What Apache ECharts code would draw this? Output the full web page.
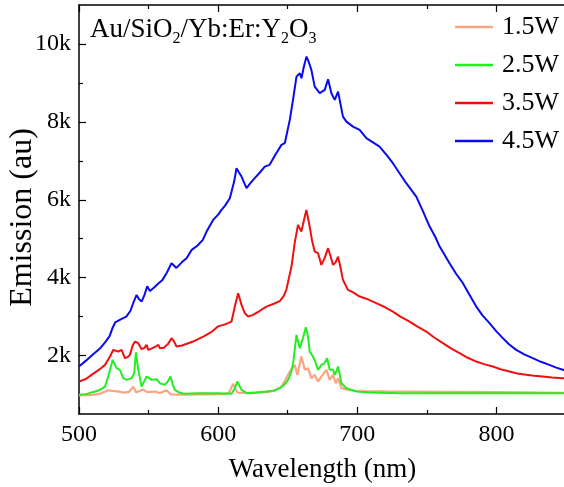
<!DOCTYPE html>
<html>
<head>
<meta charset="utf-8">
<script src="https://cdn.jsdelivr.net/npm/echarts@6/dist/echarts.min.js"></script>
<style>
  html, body { margin: 0; padding: 0; background: #fff; }
  #chart { width: 564px; height: 487px; }
</style>
</head>
<body>
<div id="chart"></div>
<script>
// Upconversion emission spectra at four pump powers
const seriesNames = ['1.5W', '2.5W', '3.5W', '4.5W'];
const seriesColors = ['#FBA584', '#22EE22', '#F01010', '#0A0AF0'];

const wl15 = [500, 510, 516, 521, 524, 528, 532, 536, 539, 541, 546, 549, 554.6, 558, 563, 566, 575, 590, 605, 608, 610.7, 612.5, 614, 625, 635, 641, 645.5, 648, 651.5, 655, 657, 659.8, 662.3, 664.6, 667, 669.4, 671.8, 674.2, 677.8, 680.2, 682.6, 684.5, 686.2, 688.6, 694.5, 700, 720, 760, 800, 850];
const em15 = [975, 990, 1030, 1110, 1095, 1080, 1050, 1070, 1200, 1050, 1130, 1060, 1076, 1040, 1110, 1000, 995, 1000, 1010, 1060, 1274, 1150, 1050, 1040, 1060, 1100, 1204, 1350, 1590, 1761, 1505, 1975, 1633, 1676, 1420, 1505, 1333, 1461, 1633, 1376, 1505, 1291, 1420, 1163, 1110, 1090, 1080, 1070, 1060, 1040];

const wl25 = [500, 505, 511.5, 515, 518.7, 521, 524.2, 527, 529.4, 531.8, 534.2, 537.8, 539.7, 540.9, 542.6, 545, 547, 548.6, 550.5, 552.2, 555.8, 558.1, 561.7, 564, 565.8, 567.5, 568.9, 572, 576.1, 585, 600, 609.6, 612, 613.7, 615.2, 616.8, 620.4, 627, 634.7, 640, 644.3, 647.5, 650.3, 652.3, 653.9, 655.2, 656.3, 658.7, 661, 663, 664.6, 665.8, 668.2, 670, 671.8, 674.2, 676.4, 678.3, 680.2, 682.6, 683.8, 685, 686.2, 688.6, 692.2, 699.4, 709, 730, 760, 800, 850];
const em25 = [1000, 1010, 1076, 1120, 1204, 1461, 1890, 1677, 1633, 1420, 1376, 1420, 1548, 2080, 1633, 1204, 1350, 1461, 1420, 1376, 1394, 1291, 1248, 1350, 1461, 1250, 1120, 1050, 1017, 1030, 1030, 1017, 1163, 1333, 1230, 1120, 1035, 1050, 1076, 1100, 1163, 1250, 1376, 1550, 1805, 2200, 2531, 2190, 2450, 2729, 2488, 2103, 1975, 1820, 1633, 1761, 1800, 1933, 1633, 1633, 1505, 1600, 1718, 1291, 1163, 1076, 1050, 1035, 1030, 1030, 1035];

const wl35 = [500, 505, 509, 513, 516, 518.7, 521, 522.3, 524.6, 526, 528.2, 530.6, 533, 535, 536.6, 538.5, 540.2, 542.6, 545, 547, 548.6, 549.7, 552, 555, 557, 558.1, 561, 564, 566.5, 568, 570.1, 574, 578.5, 582, 585.6, 590, 595, 600, 605, 609.6, 612, 614.4, 616.8, 619, 621.5, 625.1, 630, 634.7, 640, 644.3, 647, 649, 652.7, 655, 657.4, 659.8, 661.5, 663.4, 665.8, 667.5, 669.4, 671.8, 674.2, 676.5, 679, 680.8, 682.6, 684.5, 686.2, 688, 689.7, 693.3, 697, 701.7, 706.5, 713.6, 720, 725.6, 731, 737.6, 743, 749.6, 755, 761.5, 767, 773.5, 779, 785.5, 791, 797.4, 803, 809.4, 815, 821.4, 827, 833.3, 840, 847.7, 850];
const em35 = [1333, 1400, 1505, 1600, 1680, 1761, 1900, 1975, 2146, 2120, 2103, 2146, 1933, 1960, 2018, 2250, 2360, 2318, 2164, 2200, 2275, 2146, 2180, 2230, 2275, 2190, 2200, 2300, 2447, 2380, 2231, 2260, 2318, 2360, 2421, 2500, 2600, 2750, 2800, 2873, 3258, 3600, 3301, 3100, 3001, 3045, 3150, 3258, 3330, 3400, 3520, 3686, 4285, 4885, 5355, 5183, 5450, 5740, 5312, 4950, 4670, 4628, 4328, 4500, 4757, 4550, 4328, 4400, 4541, 4250, 3943, 3686, 3620, 3515, 3460, 3345, 3240, 3130, 3000, 2873, 2750, 2616, 2470, 2318, 2190, 2062, 1950, 1846, 1780, 1718, 1650, 1589, 1540, 1505, 1480, 1461, 1440, 1420, 1415];

const wl45 = [500, 505, 510, 515, 519, 522, 524, 526, 530, 534, 537, 539, 541.4, 543, 545, 547, 549, 551, 554, 557, 560, 563, 566.5, 568, 570, 574, 577.3, 581, 585, 589, 591.7, 596.4, 600, 602.4, 605, 608.4, 611.5, 613.2, 615, 616.8, 620.4, 623, 626.3, 630, 633.5, 637, 641, 645.5, 647.9, 651.5, 653.8, 656.3, 658.7, 659.9, 661.5, 663.5, 665, 667, 669.4, 673, 676.6, 679, 681.4, 683.8, 686.2, 689.7, 692.2, 696.9, 701.7, 706.5, 711, 716, 721, 725.6, 730, 735.2, 742.4, 747, 752, 756, 759.2, 766.3, 771, 775.9, 780, 785.5, 790, 795, 800, 804.6, 809, 814.2, 820, 826.1, 832, 838, 843, 850];
const em45 = [1720, 1870, 2030, 2180, 2350, 2500, 2700, 2850, 2930, 3000, 3150, 3350, 3558, 3450, 3386, 3550, 3780, 3660, 3750, 3850, 3943, 4120, 4372, 4320, 4250, 4400, 4500, 4713, 4820, 4970, 5183, 5483, 5620, 5740, 5850, 6040, 6467, 6810, 6700, 6595, 6297, 6420, 6554, 6700, 6852, 6896, 7150, 7409, 7452, 8050, 8564, 9162, 9249, 9120, 9400, 9675, 9550, 9334, 8905, 8736, 8820, 9095, 8736, 8564, 8777, 8135, 8006, 7878, 7794, 7581, 7480, 7365, 7150, 6939, 6700, 6425, 6082, 5720, 5312, 5050, 4798, 4372, 4100, 3859, 3600, 3258, 3030, 2832, 2620, 2447, 2290, 2146, 2030, 1933, 1840, 1761, 1690, 1610];

const xMajorTicks = [500, 600, 700, 800];
const xMinorTicks = [550, 650, 750];
const yMajorTicks = [2000, 4000, 6000, 8000, 10000];
const yMinorTicks = [3000, 5000, 7000, 9000];

const wavelengths = [wl15, wl25, wl35, wl45];
const emissions = [em15, em25, em35, em45];

const FONT = 'Liberation Serif';
const chart = echarts.init(document.getElementById('chart'), null, { renderer: 'canvas' });

function xAxisDef(position, ticks, len, withLabels, withLine) {
  return {
    type: 'value', position: position, min: 500, max: 850,
    axisLine: { show: withLine, onZero: false, lineStyle: { color: '#000', width: 1.5 } },
    axisTick: { show: true, inside: true, length: len, customValues: ticks, lineStyle: { color: '#000', width: 1.2 } },
    axisLabel: withLabels
      ? { show: true, customValues: ticks, fontFamily: FONT, fontSize: 24, color: '#000', margin: 9 }
      : { show: false },
    splitLine: { show: false }
  };
}

function yAxisDef(ticks, len, withLabels, withLine) {
  return {
    type: 'value', position: 'left', min: 500, max: 11000,
    axisLine: { show: withLine, onZero: false, lineStyle: { color: '#000', width: 1.5 } },
    axisTick: { show: true, inside: true, length: len, customValues: ticks, lineStyle: { color: '#000', width: 1.2 } },
    axisLabel: withLabels
      ? { show: true, customValues: ticks, fontFamily: FONT, fontSize: 24, color: '#000', margin: 8,
          formatter: v => (v / 1000) + 'k' }
      : { show: false },
    splitLine: { show: false }
  };
}

const xMain = xAxisDef('bottom', xMajorTicks, 7, true, true);
xMain.name = 'Wavelength (nm)';
xMain.nameLocation = 'middle';
xMain.nameGap = 42;
xMain.nameTextStyle = { fontFamily: FONT, fontSize: 27, color: '#000' };

const yMain = yAxisDef(yMajorTicks, 7, true, true);
yMain.name = 'Emission (au)';
yMain.nameLocation = 'middle';
yMain.nameGap = 40;
yMain.nameMoveOverlap = false;
yMain.nameTextStyle = { fontFamily: FONT, fontSize: 32, color: '#000', padding: [0, 16, 0, 0] };

const option = {
  animation: false,
  backgroundColor: '#fff',
  grid: { left: 79, top: 5, width: 487, height: 409, containLabel: false, outerBoundsMode: 'none' },
  xAxis: [
    xMain,
    xAxisDef('bottom', xMinorTicks, 4, false, false),
    xAxisDef('top', xMajorTicks, 7, false, true),
    xAxisDef('top', xMinorTicks, 4, false, false)
  ],
  yAxis: [
    yMain,
    yAxisDef(yMinorTicks, 4, false, false)
  ],
  legend: {
    orient: 'vertical', left: 450, top: 9,
    itemWidth: 38, itemHeight: 2.5, itemGap: 12,
    icon: 'rect',
    textStyle: { fontFamily: FONT, fontSize: 26, color: '#000', padding: [0, 0, 0, 4] },
    data: seriesNames
  },
  graphic: [{
    type: 'text', left: 90, top: 16,
    style: {
      text: '{n|Au/SiO}{s|2}{n|/Yb:Er:Y}{s|2}{n|O}{s|3}',
      rich: {
        n: { fontFamily: FONT, fontSize: 27, fill: '#000', lineHeight: 30, verticalAlign: 'bottom' },
        s: { fontFamily: FONT, fontSize: 16, fill: '#000', lineHeight: 16, verticalAlign: 'bottom', padding: [0, 0, -4, 0] }
      }
    }
  }],
  series: seriesNames.map((name, i) => ({
    name: name,
    type: 'line',
    xAxisIndex: 0, yAxisIndex: 0,
    symbol: 'none',
    color: seriesColors[i],
    lineStyle: { width: i === 0 ? 2.2 : 2, color: seriesColors[i] },
    data: wavelengths[i].map((w, k) => [w, emissions[i][k]])
  }))
};

chart.setOption(option);
</script>
</body>
</html>
